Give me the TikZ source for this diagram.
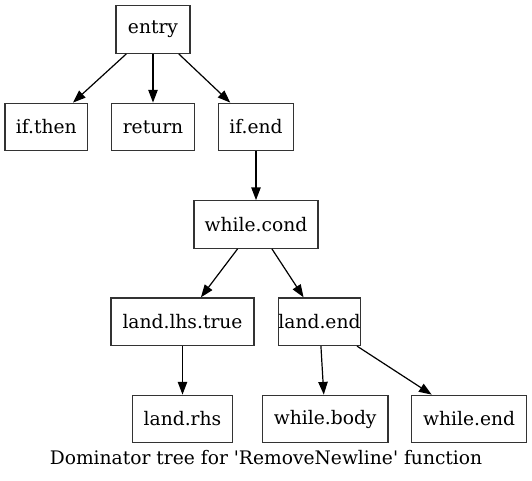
\documentclass[tikz,border=0pt]{standalone}
\usepackage{fontspec}
\setmainfont{DejaVu Serif}
\usetikzlibrary{arrows.meta}
\begin{document}
\begin{tikzpicture}[x=0.75pt,y=-0.75pt,
  gvbox/.style={draw=black!80,line width=1pt,rectangle,inner sep=0pt,minimum height=35.6pt,font=\fontsize{14}{17}\selectfont},
  gvedge/.style={draw=black,line width=0.9pt,-{Triangle[length=9.5pt,width=7pt]}}]
\useasboundingbox (0,0) rectangle (532,480);
\node[gvbox,minimum width=55.5pt] (entry) at (153,29.5) {entry};
\node[gvbox,minimum width=61.8pt] (ifthen) at (46.3,127) {if.then};
\node[gvbox,minimum width=61.8pt] (ret) at (153,127) {return};
\node[gvbox,minimum width=56.2pt] (ifend) at (256,127) {if.end};
\node[gvbox,minimum width=93.2pt] (wcond) at (256,224.5) {while.cond};
\node[gvbox,minimum width=107.2pt] (lhs) at (182.5,321.7) {land.lhs.true};
\node[gvbox,minimum width=61.5pt] (lend) at (319.5,321.7) {land.end};
\node[gvbox,minimum width=75.3pt] (lrhs) at (182.5,419) {land.rhs};
\node[gvbox,minimum width=94.2pt] (wbody) at (325.2,419) {while.body};
\node[gvbox,minimum width=86.2pt] (wend) at (469.2,419) {while.end};
\node[font=\fontsize{14}{17}\selectfont] (cap) at (266,458) {Dominator tree for \textquotesingle RemoveNewline\textquotesingle{} function};
\draw[gvedge] (entry) -- (ifthen);
\draw[gvedge] (entry) -- (ret);
\draw[gvedge] (entry) -- (ifend);
\draw[gvedge] (ifend) -- (wcond);
\draw[gvedge] (wcond) -- (lhs);
\draw[gvedge] (wcond) -- (lend);
\draw[gvedge] (lhs) -- (lrhs);
\draw[gvedge] (lend) -- (wbody);
\draw[gvedge] (lend) -- (wend);
\end{tikzpicture}
\end{document}
